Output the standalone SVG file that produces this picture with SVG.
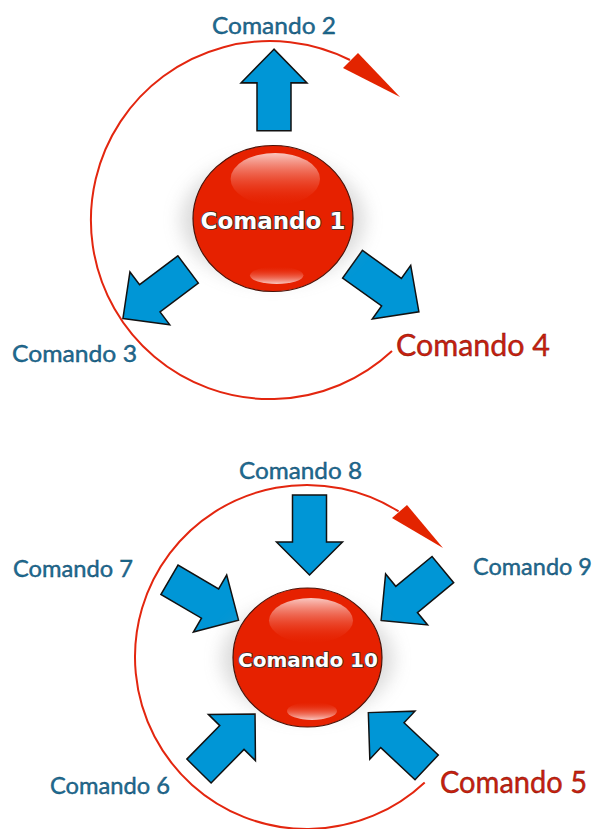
<svg xmlns="http://www.w3.org/2000/svg" width="595" height="829" viewBox="0 0 595 829">
<defs>
<style>
.lbl{font-family:Lato,"Open Sans",sans-serif;font-size:24px;fill:#1e6c93;stroke:#0e4767;stroke-width:0.4px}
.lblr{font-family:Lato,"Open Sans",sans-serif;font-size:30px;fill:#c8200e;stroke:#7a1408;stroke-width:0.4px}
.ball{fill:#e62100;stroke:#4a1208;stroke-width:1.2}
.btxt{font-family:"DejaVu Sans","Liberation Sans",sans-serif;font-weight:bold;fill:#ffffff;stroke:#333333;stroke-width:1.6px;paint-order:stroke;text-anchor:middle}
.arc{fill:none;stroke:#e3260f;stroke-width:2}
.head{fill:#e32400}
.barrow{fill:#0096d6;stroke:#111111;stroke-width:1.5;stroke-linejoin:miter}
</style>
<linearGradient id="hiTop" x1="0" y1="0" x2="0" y2="1">
<stop offset="0" stop-color="#fbd0cb" stop-opacity="0.95"/>
<stop offset="1" stop-color="#e62100" stop-opacity="0.1"/>
</linearGradient>
<linearGradient id="hiBot" x1="0" y1="1" x2="0" y2="0">
<stop offset="0" stop-color="#fbd0cb" stop-opacity="0.95"/>
<stop offset="1" stop-color="#e62100" stop-opacity="0.1"/>
</linearGradient>
<filter id="glow" x="-50%" y="-50%" width="200%" height="200%">
<feGaussianBlur stdDeviation="9"/>
</filter>
<path id="blk" d="M40,0 L7,-33 L7,-17 L-40,-17 L-40,17 L7,17 L7,33 Z"/>
</defs>

<g id="connectors">
<path class="arc" d="M392,351 A179,179 0 1 1 350,60"/>
<polygon class="head" points="343,68 358,53 400,97"/>
<path class="arc" d="M424.7,782.4 A172,172 0 1 1 398.6,511.4"/>
<polygon class="head" points="392,518 407,505 443,548"/>
<use href="#blk" class="barrow" transform="translate(274,90) rotate(-90) scale(1.02,1)"/>
<use href="#blk" class="barrow" transform="translate(155.5,294) rotate(143) scale(1.02,1)"/>
<use href="#blk" class="barrow" transform="translate(385.7,288) rotate(35.6) scale(1.02,1)"/>
<use href="#blk" class="barrow" transform="translate(309.5,535) rotate(90)"/>
<use href="#blk" class="barrow" transform="translate(204,600) rotate(30.3)"/>
<use href="#blk" class="barrow" transform="translate(412,595) rotate(140.5)"/>
<use href="#blk" class="barrow" transform="translate(227,742.5) rotate(-45.5)"/>
<use href="#blk" class="barrow" transform="translate(397.5,740) rotate(-136.8)"/>
</g>

<g id="node1">
<ellipse cx="273" cy="220" rx="92" ry="62" fill="#9a9a9a" opacity="0.35" filter="url(#glow)"/>
<ellipse class="ball" cx="273" cy="218.5" rx="80" ry="73"/>
<ellipse cx="275.3" cy="179" rx="44.7" ry="26" fill="url(#hiTop)"/>
<ellipse cx="276.7" cy="275.3" rx="26.7" ry="8.7" fill="url(#hiBot)"/>
<text class="btxt" x="273" y="229" font-size="23">Comando 1</text>
</g>

<g id="node10">
<ellipse cx="307.5" cy="659" rx="86" ry="58" fill="#9a9a9a" opacity="0.35" filter="url(#glow)"/>
<ellipse class="ball" cx="307.5" cy="657.5" rx="74.5" ry="69.5"/>
<ellipse cx="311" cy="620.5" rx="42" ry="22.5" fill="url(#hiTop)"/>
<ellipse cx="312" cy="711" rx="25" ry="9" fill="url(#hiBot)"/>
<text class="btxt" x="308" y="667" font-size="20">Comando 10</text>
</g>

<g id="label2"><text class="lbl" x="212" y="34" textLength="124" lengthAdjust="spacingAndGlyphs">Comando 2</text></g>
<g id="label3"><text class="lbl" x="12" y="362" textLength="125" lengthAdjust="spacingAndGlyphs">Comando 3</text></g>
<g id="label4"><text class="lblr" x="396" y="356" textLength="154" lengthAdjust="spacingAndGlyphs">Comando 4</text></g>
<g id="label8"><text class="lbl" x="239" y="479" textLength="123" lengthAdjust="spacingAndGlyphs">Comando 8</text></g>
<g id="label7"><text class="lbl" x="13" y="577" textLength="120" lengthAdjust="spacingAndGlyphs">Comando 7</text></g>
<g id="label9"><text class="lbl" x="473" y="575" textLength="119" lengthAdjust="spacingAndGlyphs">Comando 9</text></g>
<g id="label6"><text class="lbl" x="50" y="794" textLength="120" lengthAdjust="spacingAndGlyphs">Comando 6</text></g>
<g id="label5"><text class="lblr" x="440" y="793" font-size="29" textLength="147" lengthAdjust="spacingAndGlyphs">Comando 5</text></g>
</svg>
